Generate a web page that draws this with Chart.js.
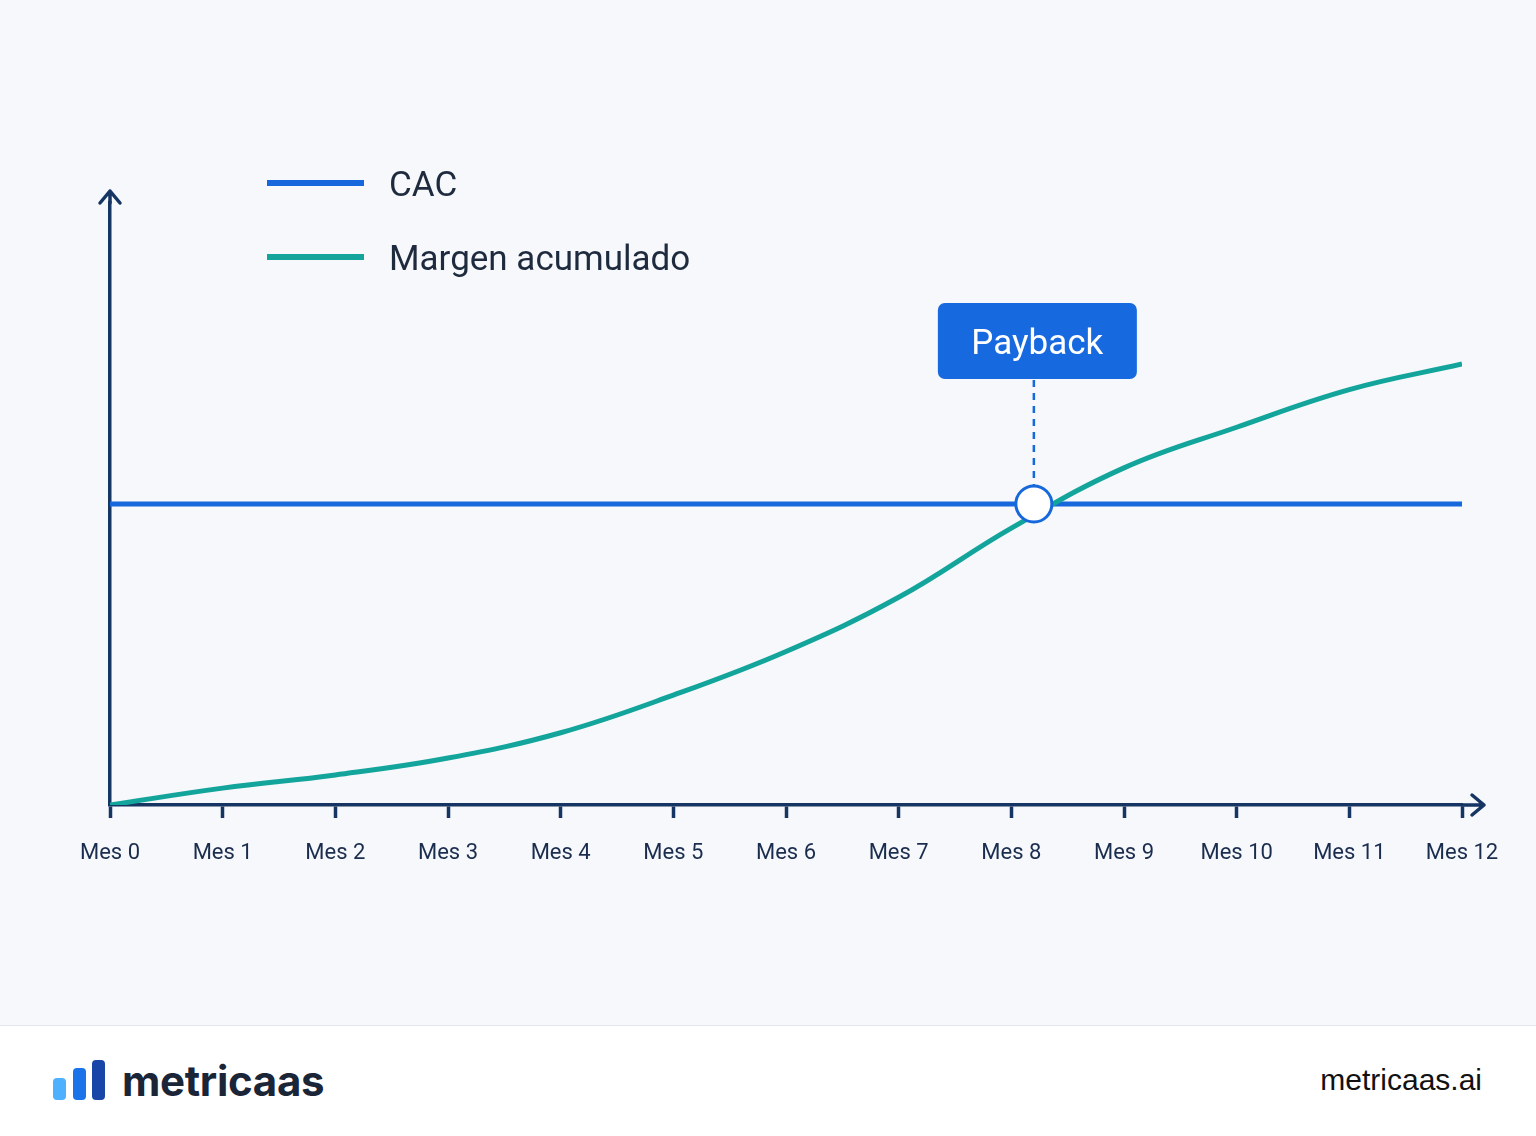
<!DOCTYPE html>
<html lang="es">
<head>
<meta charset="utf-8">
<title>Payback CAC vs Margen acumulado</title>
<script src="https://cdn.jsdelivr.net/npm/chart.js@4.4.1/dist/chart.umd.min.js"></script>
<style>
    html, body { margin: 0; padding: 0; }
    body { width: 1536px; height: 1136px; background: #f6f8fb; font-family: Roboto, "Noto Sans", sans-serif; overflow: hidden; }
    #wrap { position: relative; width: 1536px; height: 1025px; }
    #footer { position: relative; height: 110px; background: #ffffff; border-top: 1px solid #e2e7ee; }
    .bar { position: absolute; width: 13px; border-radius: 4px; bottom: 36px; }
    #brand { position: absolute; left: 122px; top: 29px; font-family: Inter, Roboto, sans-serif; font-weight: 700; font-size: 42px; color: #1b2538; letter-spacing: -0.3px; }
    #site { position: absolute; right: 54px; top: 37px; font-family: "Liberation Sans", Arial, sans-serif; font-size: 30px; color: #111111; }
</style>
</head>
<body>
<div id="wrap"><canvas id="paybackChart" width="1536" height="1025"></canvas></div>
<div id="footer">
    <div class="bar" style="left:53px;height:22px;background:#4fb0ff;"></div>
    <div class="bar" style="left:73px;height:32px;background:#1a73e8;"></div>
    <div class="bar" style="left:92px;height:40px;background:#1746a8;"></div>
    <div id="brand">metricaas</div>
    <div id="site">metricaas.ai</div>
</div>
<script>
// Data (CAC normalised to 100)
const months = [0, 1, 2, 3, 4, 5, 6, 7, 8, 9, 10, 11, 12];
const cacValues = [100, 100, 100, 100, 100, 100, 100, 100, 100, 100, 100, 100, 100];
const marginValues = [0, 5.6, 10, 15.6, 24, 36.5, 51, 69, 92, 112, 125.5, 138, 146.5];
const paybackMonth = 8.2;
const paybackLabel = 'Payback';
const legendLabels = ['CAC', 'Margen acumulado'];

const BLUE = '#1668dc';
const TEAL = '#13a59c';
const NAVY = '#163563';

const overlayPlugin = {
    id: 'overlay',
    beforeDatasetsDraw(chart) {
        const { ctx, scales } = chart;
        const px = scales.x.getPixelForValue(paybackMonth);
        const py = scales.y.getPixelForValue(100);
        // dashed connector from label box to payback point
        ctx.save();
        ctx.strokeStyle = BLUE;
        ctx.lineWidth = 2.5;
        ctx.setLineDash([7, 6]);
        ctx.beginPath();
        ctx.moveTo(px, 380);
        ctx.lineTo(px, py - 18);
        ctx.stroke();
        ctx.restore();
    },
    afterDatasetsDraw(chart) {
        const { ctx, chartArea, scales } = chart;
        const x0 = chartArea.left;
        const yb = chartArea.bottom;

        ctx.save();
        ctx.strokeStyle = NAVY;
        ctx.lineWidth = 3.5;
        ctx.lineCap = 'round';
        ctx.lineJoin = 'round';
        // y axis arrow
        ctx.beginPath();
        ctx.moveTo(x0, chartArea.top);
        ctx.lineTo(x0, 191);
        ctx.moveTo(x0 - 10, 203);
        ctx.lineTo(x0, 191);
        ctx.lineTo(x0 + 10, 203);
        ctx.stroke();
        // x axis arrow
        ctx.beginPath();
        ctx.moveTo(chartArea.right, yb);
        ctx.lineTo(1484, yb);
        ctx.moveTo(1472, yb - 10);
        ctx.lineTo(1484, yb);
        ctx.lineTo(1472, yb + 10);
        ctx.stroke();

        // legend
        ctx.lineCap = 'butt';
        ctx.lineWidth = 6;
        ctx.strokeStyle = BLUE;
        ctx.beginPath(); ctx.moveTo(267, 183); ctx.lineTo(364, 183); ctx.stroke();
        ctx.strokeStyle = TEAL;
        ctx.beginPath(); ctx.moveTo(267, 257); ctx.lineTo(364, 257); ctx.stroke();
        ctx.fillStyle = '#1e2a3e';
        ctx.font = '35px Roboto';
        ctx.textBaseline = 'middle';
        ctx.fillText(legendLabels[0], 389, 187);
        ctx.fillText(legendLabels[1], 389, 261);

        // payback label box
        const px = scales.x.getPixelForValue(paybackMonth);
        const bw = 199, bh = 76;
        const bx = px - 96, by = 303;
        ctx.fillStyle = '#1769e0';
        ctx.beginPath();
        ctx.roundRect(bx, by, bw, bh, 7);
        ctx.fill();
        ctx.fillStyle = '#ffffff';
        ctx.font = '35px Roboto';
        ctx.textAlign = 'center';
        ctx.fillText(paybackLabel, bx + bw / 2, by + bh / 2 + 4);
        ctx.restore();
    }
};

new Chart(document.getElementById('paybackChart'), {
    type: 'line',
    data: {
        datasets: [
            {
                label: legendLabels[0],
                data: months.map((m, i) => ({ x: m, y: cacValues[i] })),
                borderColor: BLUE,
                borderWidth: 5,
                pointRadius: 0,
                tension: 0,
                order: 2
            },
            {
                label: legendLabels[1],
                data: months.map((m, i) => ({ x: m, y: marginValues[i] })),
                borderColor: TEAL,
                borderWidth: 5,
                pointRadius: 0,
                tension: 0.4,
                order: 1
            },
            {
                label: paybackLabel,
                data: [{ x: paybackMonth, y: 100 }],
                showLine: false,
                pointRadius: 18,
                pointBackgroundColor: '#ffffff',
                pointBorderColor: BLUE,
                pointBorderWidth: 3,
                order: 0
            }
        ]
    },
    options: {
        responsive: false,
        animation: false,
        events: [],
        layout: { padding: { left: 110, right: 74, top: 203, bottom: 140 } },
        plugins: {
            legend: { display: false },
            tooltip: { enabled: false }
        },
        scales: {
            x: {
                type: 'linear',
                min: 0,
                max: 12,
                afterFit: (s) => { s.height = 80; },
                border: { display: true, color: NAVY, width: 3.5 },
                grid: { drawOnChartArea: false, drawTicks: true, tickLength: 13, tickWidth: 3.5, tickColor: NAVY },
                ticks: {
                    stepSize: 1,
                    padding: 22,
                    color: '#1b2d4f',
                    font: { family: 'Roboto', size: 22 },
                    maxRotation: 0,
                    autoSkip: false,
                    callback: (v) => 'Mes ' + v
                }
            },
            y: {
                min: 0,
                max: 200,
                afterFit: (s) => { s.width = 0; },
                border: { display: true, color: NAVY, width: 3.5 },
                grid: { display: false },
                ticks: { display: false }
            }
        }
    },
    plugins: [overlayPlugin]
});
</script>
</body>
</html>
